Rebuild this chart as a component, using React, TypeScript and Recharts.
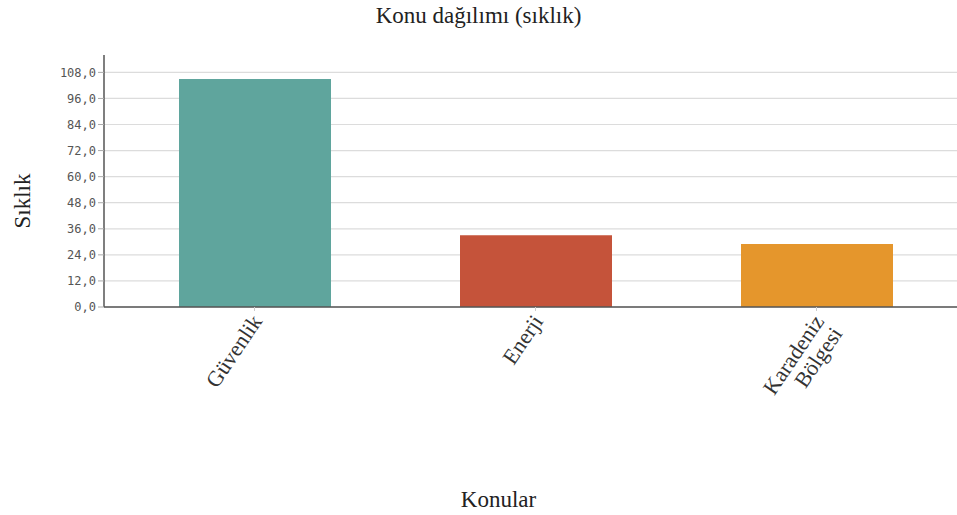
import React from 'react';
import { BarChart, Bar, XAxis, YAxis, CartesianGrid, Cell, Label } from 'recharts';

const topics = ['Güvenlik', 'Enerji', 'Karadeniz Bölgesi'];
const counts = [105, 33, 29];
const colors = ['#5fa59d', '#c5533a', '#e5962c'];
const yTicks = [0, 12, 24, 36, 48, 60, 72, 84, 96, 108];

const data = topics.map((topic, i) => ({ topic, count: counts[i] }));

const serif = '"Liberation Serif", "DejaVu Serif", serif';

function TopicTick(props: any) {
  const { x, y, payload } = props;
  const words = String(payload.value).split(' ');
  const lines = words.length > 1 ? words : [payload.value];
  return (
    <g transform={`translate(${x + 2},${y + 4}) rotate(-56)`}>
      <text textAnchor="end" fontFamily={serif} fontSize={22} fill="#333">
        {lines.map((l: string, i: number) => (
          <tspan key={i} x={0} dy={i === 0 ? '0.35em' : '1.0em'}>{l}</tspan>
        ))}
      </text>
    </g>
  );
}

function YTitle() {
  return (
    <text
      x={22}
      y={201}
      transform="rotate(-90, 22, 201)"
      textAnchor="middle"
      dominantBaseline="central"
      fontFamily={serif}
      fontSize={23}
      fill="#222"
    >
      Sıklık
    </text>
  );
}

export default function App() {
  return (
    <div style={{ position: 'absolute', left: 0, top: 0, width: 957, height: 515, background: '#fff' }}>
      <div style={{ position: 'absolute', top: 3, width: 957, textAlign: 'center', fontFamily: serif, fontSize: 23, color: '#222' }}>
        Konu dağılımı (sıklık)
      </div>
      <BarChart width={957} height={515} data={data} margin={{ top: 55, right: 0, left: 0, bottom: 0 }}>
        <CartesianGrid vertical={false} horizontalValues={yTicks} stroke="#dcdcdc" strokeWidth={1.2} />
        <XAxis
          dataKey="topic"
          height={208}
          interval={0}
          padding={{ left: 10, right: 0 }}
          tick={<TopicTick />}
          tickSize={4}
          axisLine={{ stroke: '#555', strokeWidth: 1.5 }}
          tickLine={{ stroke: '#ccc' }}
        >
          <Label value="Konular" position="insideBottom" offset={8} dx={-32} style={{ fontFamily: serif, fontSize: 23, fill: '#222' }} />
        </XAxis>
        <YAxis
          width={104}
          domain={[0, 116]}
          ticks={yTicks}
          interval={0}
          tickFormatter={(v: number) => v.toFixed(1).replace('.', ',')}
          tick={{ fontFamily: '"DejaVu Sans Mono", monospace', fontSize: 12, fill: '#555' }}
          tickSize={6}
          axisLine={{ stroke: '#555', strokeWidth: 1.5 }}
          tickLine={{ stroke: '#aaa' }}
        >
          <Label content={<YTitle />} />
        </YAxis>
        <Bar dataKey="count" barSize={152} isAnimationActive={false}>
          {data.map((d, i) => (
            <Cell key={d.topic} fill={colors[i]} />
          ))}
        </Bar>
      </BarChart>
    </div>
  );
}
